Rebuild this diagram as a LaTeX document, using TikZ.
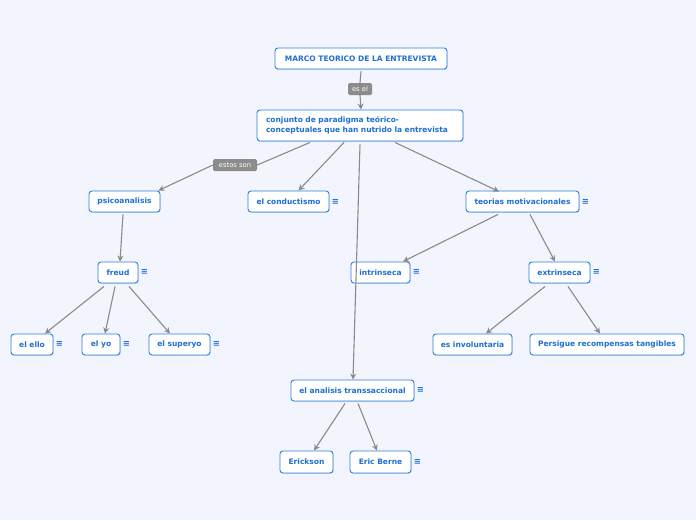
\documentclass[tikz,border=0pt]{standalone}
\usepackage{fontspec}
\setmainfont{DejaVu Sans}
\usetikzlibrary{arrows.meta,shadows}
\definecolor{bg}{HTML}{F2F5FD}
\definecolor{nblue}{HTML}{2F80DE}
\definecolor{tblue}{HTML}{1F6FD2}
\definecolor{egray}{HTML}{8A8A8A}
\definecolor{lgray}{HTML}{8C8C8C}
\tikzset{
  topic/.style={draw=nblue, line width=0.9pt, fill=white, rounded corners=3pt,
    text=tblue, font=\bfseries\fontsize{7.5}{9}\selectfont, minimum height=21pt,
    inner xsep=2pt, inner ysep=2pt,
    drop shadow={shadow xshift=0.6pt, shadow yshift=-0.8pt, opacity=0.25, fill=nblue}},
  note/.style={text=tblue, font=\bfseries\fontsize{8.5}{8.5}\selectfont, inner sep=0pt},
  conn/.style={draw=egray, line width=1.1pt, -{Stealth[length=6pt,width=6pt]}},
  plain/.style={draw=egray, line width=1.1pt},
  lab/.style={fill=lgray, text=white, rounded corners=1.5pt, font=\fontsize{6.8}{7}\selectfont,
    minimum height=12pt, inner xsep=2pt, inner ysep=0pt},
}
\begin{document}
\begin{tikzpicture}[x=1pt,y=-1pt]
\fill[bg] (0,0) rectangle (696,520);
\useasboundingbox (0,0) rectangle (696,520);

\node[topic, minimum width=172pt] (marco) at (361,58.5) {MARCO TEORICO DE LA ENTREVISTA};
\node[topic, text width=188pt, align=left, inner xsep=9pt, minimum height=31pt, font=\bfseries\fontsize{7.5}{9.5}\selectfont] (conj) at (360,125.5) {conjunto de paradigma teórico-\\conceptuales que han nutrido la entrevista};

\node[topic, minimum width=71pt] (psico) at (124.5,201.5) {psicoanalisis};
\node[topic, minimum width=81pt] (cond) at (288.5,201.5) {el conductismo};
\node[topic, minimum width=113pt] (teor) at (522.5,201.5) {teorias motivacionales};

\node[topic, minimum width=40pt] (freud) at (118,272.5) {freud};
\node[topic, minimum width=59pt] (intr) at (380.5,272.5) {intrinseca};
\node[topic, minimum width=61pt] (extr) at (559.5,272.5) {extrinseca};

\node[topic, minimum width=42pt] (ello) at (32,344.5) {el ello};
\node[topic, minimum width=38pt] (yo) at (101,344.5) {el yo};
\node[topic, minimum width=61pt] (super) at (179.5,344.5) {el superyo};
\node[topic, minimum width=79pt] (invol) at (472.5,344.5) {es involuntaria};
\node[topic, minimum width=154pt] (pers) at (607,344.5) {Persigue recompensas tangibles};

\node[topic, minimum width=123pt] (anal) at (352.5,390.5) {el analisis transsaccional};
\node[topic, minimum width=53pt, minimum height=22pt] (erick) at (306.5,462) {Erickson};
\node[topic, minimum width=61pt, minimum height=22pt] (berne) at (380.5,462) {Eric Berne};

% notes
\node[note] (n1) at (335.5,201.5) {≡};
\node[note] (n2) at (585.5,201.5) {≡};
\node[note] (n3) at (144.5,272) {≡};
\node[note] (n4) at (416.5,272) {≡};
\node[note] (n5) at (596.5,272) {≡};
\node[note] (n6) at (59.5,344) {≡};
\node[note] (n7) at (126.5,344) {≡};
\node[note] (n8) at (216.5,344) {≡};
\node[note] (n9) at (420.5,390) {≡};
\node[note] (n10) at (417.5,462) {≡};

% labels
\node[lab, minimum width=24pt] (esel) at (360,89) {es el};
\node[lab, minimum width=44pt] (estos) at (235,165) {estos son};

% connectors
\draw[plain] ([yshift=-2pt]marco.south) -- (esel.north);
\draw[conn] (esel.south) -- ([xshift=1pt]conj.north);
\draw[plain] ([xshift=-50pt,yshift=-1pt]conj.south) -- (estos.east);
\draw[conn] (estos.west) -- ([xshift=-2pt]psico.north east);
\draw[conn] ([xshift=-16pt,yshift=-1pt]conj.south) -- ([xshift=10pt]cond.north);
\draw[conn] ([xshift=0pt,yshift=-3pt]conj.south) -- ([xshift=0.5pt]anal.north);
\draw[conn] ([xshift=35pt,yshift=-1pt]conj.south) -- ([xshift=-23.5pt,yshift=-1pt]teor.north);
\draw[conn] ([xshift=-1.5pt,yshift=-2pt]psico.south) -- ([xshift=2pt]freud.north);
\draw[conn] ([xshift=-14pt,yshift=-3pt]freud.south) -- ([xshift=13pt]ello.north);
\draw[conn] ([xshift=-3pt,yshift=-3pt]freud.south) -- ([xshift=4pt]yo.north);
\draw[conn] ([xshift=11pt,yshift=-3pt]freud.south) -- ([xshift=-9.5pt]super.north);
\draw[conn] ([xshift=-24.5pt,yshift=-2pt]teor.south) -- ([xshift=22.5pt]intr.north);
\draw[conn] ([xshift=7.5pt,yshift=-2pt]teor.south) -- ([xshift=-4.5pt]extr.north);
\draw[conn] ([xshift=-14.5pt,yshift=-3pt]extr.south) -- ([xshift=13.5pt]invol.north);
\draw[conn] ([xshift=8.5pt,yshift=-3pt]extr.south) -- ([xshift=-7pt]pers.north);
\draw[conn] ([xshift=-7.5pt,yshift=-2pt]anal.south) -- ([xshift=7.5pt]erick.north);
\draw[conn] ([xshift=5.5pt,yshift=-2pt]anal.south) -- ([xshift=-3.5pt]berne.north);
\end{tikzpicture}
\end{document}
